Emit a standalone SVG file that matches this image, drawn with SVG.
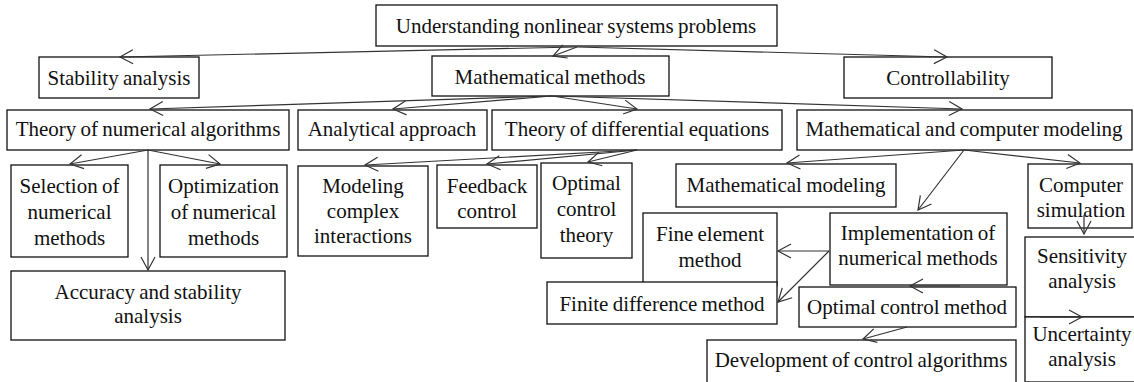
<svg xmlns="http://www.w3.org/2000/svg" width="1134" height="382" viewBox="0 0 1134 382">
<style>
.b{fill:#fff;stroke:#111;stroke-width:1.3}
.t{font-family:"Liberation Serif","Times New Roman",serif;font-size:21px;fill:#111;text-anchor:middle;word-spacing:-1px}
.c{fill:none;stroke:#333;stroke-width:1.2;marker-end:url(#a)}
</style>
<defs>
<marker id="a" viewBox="0 0 16 16" refX="14" refY="8" markerWidth="16" markerHeight="16" markerUnits="userSpaceOnUse" orient="auto">
<path d="M1,1 L14,8 L1,15" fill="none" stroke="#333" stroke-width="1.2"/>
</marker>
</defs>
<rect width="1134" height="382" fill="#fff"/>
<g id="n-top"><rect class="b" x="376" y="5" width="401" height="41"/><text class="t" x="576" y="33">Understanding nonlinear systems problems</text></g>
<g id="n-stab"><rect class="b" x="39" y="57" width="160" height="41"/><text class="t" x="119" y="85">Stability analysis</text></g>
<g id="n-math"><rect class="b" x="432" y="56" width="237" height="40"/><text class="t" x="550" y="84">Mathematical methods</text></g>
<g id="n-ctrl"><rect class="b" x="844" y="57" width="208" height="41"/><text class="t" x="948" y="85">Controllability</text></g>
<g id="n-tna"><rect class="b" x="7" y="110" width="282" height="40"/><text class="t" x="148" y="136">Theory of numerical algorithms</text></g>
<g id="n-ana"><rect class="b" x="298" y="110" width="189" height="40"/><text class="t" x="392" y="136">Analytical approach</text></g>
<g id="n-tde"><rect class="b" x="492" y="110" width="290" height="40"/><text class="t" x="637" y="136">Theory of differential equations</text></g>
<g id="n-mcm"><rect class="b" x="797" y="110" width="335" height="40"/><text class="t" x="964" y="136">Mathematical and computer modeling</text></g>
<g id="n-sel"><rect class="b" x="11" y="165" width="117" height="92"/><text class="t" x="69.5" y="193">Selection of</text><text class="t" x="69.5" y="219">numerical</text><text class="t" x="69.5" y="245">methods</text></g>
<g id="n-opt"><rect class="b" x="160" y="165" width="127" height="92"/><text class="t" x="223.5" y="193">Optimization</text><text class="t" x="223.5" y="219">of numerical</text><text class="t" x="223.5" y="245">methods</text></g>
<g id="n-acc"><rect class="b" x="11" y="271" width="274" height="69"/><text class="t" x="148" y="299">Accuracy and stability</text><text class="t" x="148" y="323">analysis</text></g>
<g id="n-mod"><rect class="b" x="298" y="166" width="130" height="90"/><text class="t" x="363" y="193">Modeling</text><text class="t" x="363" y="218">complex</text><text class="t" x="363" y="243">interactions</text></g>
<g id="n-fb"><rect class="b" x="437" y="165" width="100" height="63"/><text class="t" x="487" y="193">Feedback</text><text class="t" x="487" y="218">control</text></g>
<g id="n-oct"><rect class="b" x="541" y="163" width="91" height="95"/><text class="t" x="586.5" y="190">Optimal</text><text class="t" x="586.5" y="216">control</text><text class="t" x="586.5" y="242">theory</text></g>
<g id="n-mm"><rect class="b" x="676" y="164" width="220" height="43"/><text class="t" x="786" y="192">Mathematical modeling</text></g>
<g id="n-cs"><rect class="b" x="1028" y="164" width="104" height="64"/><text class="t" x="1081" y="192">Computer</text><text class="t" x="1081" y="217">simulation</text></g>
<g id="n-fem"><rect class="b" x="643" y="213" width="134" height="73"/><text class="t" x="710" y="241">Fine element</text><text class="t" x="710" y="267">method</text></g>
<g id="n-fdm"><rect class="b" x="547" y="282" width="230" height="42"/><text class="t" x="662" y="311">Finite difference method</text></g>
<g id="n-imp"><rect class="b" x="830" y="213" width="177" height="72"/><text class="t" x="918" y="240">Implementation of</text><text class="t" x="918" y="265">numerical methods</text></g>
<g id="n-ocm"><rect class="b" x="799" y="287" width="217" height="40"/><text class="t" x="907" y="314">Optimal control method</text></g>
<g id="n-dev"><rect class="b" x="707" y="340" width="309" height="50"/><text class="t" x="861" y="367">Development of control algorithms</text></g>
<g id="n-sen"><rect class="b" x="1025" y="237" width="115" height="80"/><text class="t" x="1082" y="263">Sensitivity</text><text class="t" x="1082" y="288">analysis</text></g>
<g id="n-unc"><rect class="b" x="1025" y="317" width="115" height="65"/><text class="t" x="1082" y="341">Uncertainty</text><text class="t" x="1082" y="366">analysis</text></g>
<g id="connectors">
<path class="c" d="M577,47 L120,57"/>
<path class="c" d="M577,47 L553,56"/>
<path class="c" d="M577,47 L947,57"/>
<path class="c" d="M552,96 L150,109"/>
<path class="c" d="M552,96 L393,109"/>
<path class="c" d="M552,96 L637,109"/>
<path class="c" d="M552,96 L962,109"/>
<path class="c" d="M148,150 L70,164"/>
<path class="c" d="M148,150 L220,164"/>
<path class="c" d="M148,150 L148,270"/>
<path class="c" d="M637,150 L365,165"/>
<path class="c" d="M637,150 L487,164"/>
<path class="c" d="M637,150 L588,162"/>
<path class="c" d="M964,150 L787,163"/>
<path class="c" d="M964,150 L1080,163"/>
<path class="c" d="M964,150 L918,210"/>
<path class="c" d="M829,251 L778,251"/>
<path class="c" d="M829,251 L778,302"/>
<path class="c" d="M960,286 L910,286"/>
<path class="c" d="M907,327 L863,339"/>
<path class="c" d="M1084,215 L1084,234"/>
<path class="c" d="M1040,317 L1082,317"/>
</g>
</svg>
